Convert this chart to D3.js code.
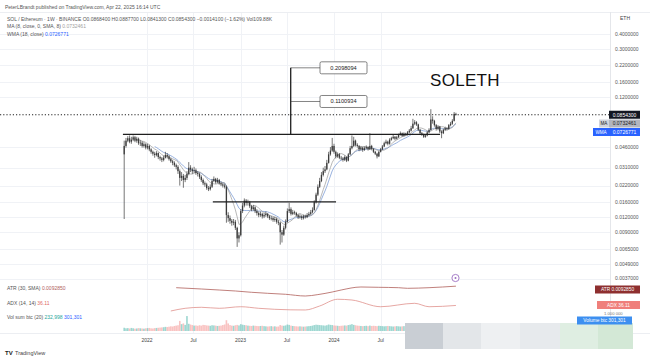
<!DOCTYPE html>
<html>
<head>
<meta charset="utf-8">
<script src="https://cdn.jsdelivr.net/npm/d3@7"></script>
<style>
  body { margin: 0; background: #fff; }
  svg { display: block; font-family: "Liberation Sans", Arial, sans-serif; }
</style>
</head>
<body>
<div id="chart"></div>
<script>

/* SOLETH WEEKLY DATA */

var firstWeek = "2021-10-04";
var firstOpen = 0.0400;

var closes = [
  0.0470,0.0520,0.0545,0.0510,0.0530,0.0555,0.0520,0.0540,0.0495,0.0500,
  0.0470,0.0485,0.0455,0.0470,0.0440,0.0420,0.0405,0.0395,0.0410,0.0380,
  0.0370,0.0360,0.0375,0.0395,0.0385,0.0365,0.0350,0.0340,0.0325,0.0315,
  0.0290,0.0255,0.0265,0.0245,0.0255,0.0275,0.0310,0.0300,0.0290,0.0295,
  0.0280,0.0275,0.0260,0.0245,0.0230,0.0225,0.0210,0.0205,0.0215,0.0240,
  0.0250,0.0235,0.0245,0.0230,0.0225,0.0220,0.0215,0.0125,0.0118,0.0112,
  0.0108,0.0110,0.0098,0.0080,0.0085,0.0135,0.0150,0.0165,0.0158,0.0160,
  0.0148,0.0140,0.0145,0.0135,0.0130,0.0125,0.0128,0.0122,0.0125,0.0128,
  0.0122,0.0118,0.0118,0.0114,0.0116,0.0110,0.0108,0.0090,0.0086,0.0098,
  0.0110,0.0135,0.0140,0.0128,0.0132,0.0130,0.0125,0.0120,0.0122,0.0118,
  0.0122,0.0120,0.0125,0.0128,0.0132,0.0138,0.0160,0.0185,0.0215,0.0240,
  0.0270,0.0290,0.0300,0.0340,0.0400,0.0430,0.0470,0.0420,0.0385,0.0400,
  0.0375,0.0370,0.0360,0.0380,0.0355,0.0400,0.0450,0.0470,0.0520,0.0480,
  0.0470,0.0440,0.0455,0.0435,0.0450,0.0460,0.0440,0.0470,0.0445,0.0420,
  0.0405,0.0385,0.0420,0.0440,0.0465,0.0495,0.0510,0.0490,0.0530,0.0545,
  0.0560,0.0540,0.0555,0.0580,0.0600,0.0570,0.0595,0.0580,0.0610,0.0630,
  0.0660,0.0720,0.0740,0.0710,0.0640,0.0600,0.0585,0.0560,0.0575,0.0610,
  0.0640,0.0780,0.0760,0.0700,0.0650,0.0680,0.0620,0.0600,0.0640,0.0660,
  0.0650,0.0700,0.0720,0.0760,0.08684,0.08543
];

var highs = [
  0.0520,0.0548,0.0567,0.0575,0.0560,0.0575,0.0570,0.0560,0.0552,0.0525,
  0.0515,0.0505,0.0495,0.0490,0.0480,0.0450,0.0430,0.0420,0.0425,0.0415,
  0.0390,0.0380,0.0390,0.0420,0.0410,0.0395,0.0375,0.0360,0.0350,0.0335,
  0.0325,0.0300,0.0285,0.0275,0.0270,0.0290,0.0345,0.0325,0.0310,0.0315,
  0.0305,0.0290,0.0282,0.0268,0.0252,0.0238,0.0232,0.0218,0.0225,0.0250,
  0.0262,0.0255,0.0255,0.0250,0.0238,0.0232,0.0228,0.0220,0.0132,0.0124,
  0.0116,0.0116,0.0114,0.0100,0.0090,0.0140,0.0158,0.0172,0.0170,0.0168,
  0.0164,0.0152,0.0152,0.0148,0.0140,0.0134,0.0134,0.0131,0.0130,0.0134,
  0.0130,0.0125,0.0123,0.0121,0.0121,0.0119,0.0114,0.0110,0.0094,0.0102,
  0.0115,0.0142,0.0158,0.0145,0.0138,0.0136,0.0133,0.0128,0.0127,0.0125,
  0.0126,0.0126,0.0130,0.0133,0.0138,0.0145,0.0166,0.0192,0.0225,0.0255,
  0.0285,0.0310,0.0320,0.0360,0.0420,0.0460,0.0548,0.0490,0.0430,0.0415,
  0.0410,0.0388,0.0380,0.0392,0.0385,0.0410,0.0470,0.0575,0.0560,0.0530,
  0.0495,0.0478,0.0470,0.0462,0.0465,0.0475,0.0468,0.0600,0.0480,0.0450,
  0.0428,0.0412,0.0428,0.0452,0.0478,0.0510,0.0530,0.0520,0.0545,0.0560,
  0.0580,0.0568,0.0570,0.0595,0.0620,0.0608,0.0610,0.0605,0.0625,0.0650,
  0.0690,0.0790,0.0770,0.0755,0.0720,0.0650,0.0615,0.0595,0.0590,0.0625,
  0.0660,0.0950,0.0830,0.0775,0.0715,0.0700,0.0690,0.0635,0.0655,0.0680,
  0.0675,0.0715,0.0745,0.0785,0.0900,0.08877
];

var lows = [
  0.0116,0.0455,0.0505,0.0495,0.0490,0.0515,0.0505,0.0500,0.0480,0.0470,
  0.0455,0.0455,0.0440,0.0440,0.0425,0.0405,0.0390,0.0375,0.0385,0.0365,
  0.0355,0.0345,0.0350,0.0370,0.0370,0.0355,0.0340,0.0325,0.0315,0.0300,
  0.0275,0.0220,0.0240,0.0211,0.0235,0.0245,0.0268,0.0285,0.0275,0.0280,
  0.0270,0.0262,0.0250,0.0236,0.0222,0.0215,0.0203,0.0198,0.0200,0.0210,
  0.0235,0.0228,0.0230,0.0224,0.0218,0.0212,0.0208,0.0108,0.0110,0.0106,
  0.0102,0.0103,0.0094,0.0068,0.0074,0.0083,0.0130,0.0145,0.0150,0.0150,
  0.0143,0.0135,0.0136,0.0130,0.0124,0.0120,0.0121,0.0117,0.0118,0.0121,
  0.0118,0.0114,0.0113,0.0110,0.0110,0.0106,0.0103,0.0071,0.0074,0.0084,
  0.0095,0.0108,0.0130,0.0124,0.0125,0.0126,0.0121,0.0116,0.0117,0.0114,
  0.0115,0.0117,0.0118,0.0122,0.0125,0.0129,0.0136,0.0156,0.0180,0.0210,
  0.0235,0.0262,0.0280,0.0295,0.0335,0.0390,0.0420,0.0405,0.0370,0.0375,
  0.0365,0.0358,0.0348,0.0352,0.0345,0.0350,0.0395,0.0440,0.0460,0.0465,
  0.0455,0.0425,0.0430,0.0420,0.0428,0.0440,0.0430,0.0435,0.0432,0.0410,
  0.0395,0.0370,0.0380,0.0415,0.0435,0.0460,0.0485,0.0475,0.0482,0.0520,
  0.0535,0.0525,0.0532,0.0548,0.0572,0.0560,0.0562,0.0570,0.0575,0.0600,
  0.0620,0.0650,0.0700,0.0690,0.0625,0.0585,0.0570,0.0548,0.0550,0.0565,
  0.0600,0.0630,0.0720,0.0680,0.0630,0.0635,0.0600,0.0545,0.0590,0.0625,
  0.0630,0.0640,0.0685,0.0705,0.0750,0.08413
];

var volumes = [
  180000,150000,160000,140000,170000,150000,130000,140000,160000,150000,
  140000,130000,150000,160000,170000,150000,140000,160000,170000,180000,
  190000,200000,210000,230000,220000,240000,260000,250000,280000,300000,
  320000,560000,380000,420000,340000,830000,400000,360000,330000,300000,
  310000,290000,320000,300000,340000,330000,310000,300000,290000,320000,
  310000,300000,280000,290000,300000,330000,360000,600000,420000,330000,
  300000,290000,320000,340000,310000,380000,350000,330000,320000,300000,
  290000,280000,300000,290000,280000,270000,280000,290000,270000,260000,
  250000,260000,270000,250000,260000,240000,250000,330000,300000,290000,
  310000,360000,340000,300000,280000,270000,260000,250000,260000,250000,
  240000,250000,260000,270000,280000,300000,330000,350000,340000,330000,
  320000,310000,300000,320000,360000,340000,330000,310000,300000,290000,
  280000,290000,300000,310000,300000,330000,350000,380000,340000,320000,
  300000,290000,280000,270000,280000,290000,270000,300000,280000,290000,
  280000,270000,290000,280000,270000,260000,270000,280000,270000,260000,
  250000,260000,270000,260000,250000,260000,270000,280000,290000,300000,
  320000,350000,330000,310000,290000,280000,270000,260000,270000,280000,
  300000,380000,340000,300000,290000,280000,270000,260000,280000,290000,
  280000,270000,290000,300000,310000,301301
];

/* indicator panes, read at a few weeks each */
var atrWeeks  = [29, 43, 53, 62, 71, 80, 90, 101, 108, 116, 121, 132, 142, 153, 158, 170, 185];
var atrValues = [0.00834,0.00754,0.00692,0.00631,0.00551,0.00489,0.00428,0.00323,0.00409,
                 0.00569,0.00692,0.00877,0.00858,0.00834,0.00797,0.00834,0.009285];
var adxWeeks  = [26, 34, 43, 53, 65, 75, 84, 101, 109, 119, 127, 143, 162, 170, 185];
var adxValues = [24.6,30.2,32.3,30.2,33.5,30.2,28.1,26.7,35.0,49.0,47.5,33.5,40.6,33.5,36.11];

var priceTicks = [0.4, 0.3, 0.22, 0.16, 0.12, 0.046, 0.031, 0.022, 0.016, 0.012, 0.009, 0.0065, 0.0049, 0.0037];
var timeTicks  = ["2022-01-01","2022-07-01","2023-01-01","2023-07-01","2024-01-01","2024-07-01"];
var timeLabels = ["2022","Jul","2023","Jul","2024","Jul"];

/* drawings on the chart */
var necklinePrice = 0.0586;
var necklineFrom = "2021-09-29", necklineTo = "2025-02-18";
var basePrice = 0.01612;
var baseFrom = "2022-09-15", baseTo = "2024-01-09";
var targetDate = "2023-07-16";
var targets = [0.2098094, 0.1100934];

var lastPrice = 0.0854300, maValue = 0.0732461, wmaValue = 0.0726771;

function drawChart(){

  var w = 650;
  var h = 363;
  var axisX = 610;

  var svg = d3.select("#chart").append("svg")
              .attr("width", w)
              .attr("height", h);

  var parse = d3.utcParse("%Y-%m-%d");
  var week0 = parse(firstWeek);

  var data = closes.map(function(c, i){
    return {
      date: d3.utcDay.offset(week0, i * 7),
      open: i === 0 ? firstOpen : closes[i - 1],
      high: highs[i],
      low: lows[i],
      close: c,
      volume: volumes[i]
    };
  });
  data[data.length - 1].open = 0.0868400;

  var x = d3.scaleUtc()
            .domain([parse("2022-01-01"), parse("2024-01-01")])
            .range([147, 334]);

  var y = d3.scaleLog()
            .domain([0.12, 0.0049])
            .range([97, 264]);

  /* grid */
  var grid = svg.append("g").attr("stroke", "#f0f2f6").attr("stroke-width", 1);
  timeTicks.forEach(function(t){
    var gx = Math.round(x(parse(t))) + 0.5;
    grid.append("line").attr("x1", gx).attr("x2", gx).attr("y1", 12).attr("y2", 333);
  });
  priceTicks.forEach(function(p){
    var gy = Math.round(y(p)) + 0.5;
    grid.append("line").attr("x1", 0).attr("x2", axisX).attr("y1", gy).attr("y2", gy);
  });

  /* frame */
  svg.append("line").attr("x1", 0).attr("x2", w).attr("y1", 12.5).attr("y2", 12.5)
     .attr("stroke", "#eceef2");
  svg.append("line").attr("x1", axisX + 0.5).attr("x2", axisX + 0.5).attr("y1", 12).attr("y2", 333)
     .attr("stroke", "#e4e6ea");
  svg.append("line").attr("x1", 0).attr("x2", w).attr("y1", 333.5).attr("y2", 333.5)
     .attr("stroke", "#eceef2");

  /* moving averages */
  var sma8 = data.map(function(d, i){
    if (i < 7) return null;
    return d3.mean(data.slice(i - 7, i + 1), function(e){ return e.close; });
  });
  var wma18 = data.map(function(d, i){
    if (i < 17) return null;
    var num = 0, den = 0;
    for (var k = 0; k < 18; k++) { num += data[i - k].close * (18 - k); den += 18 - k; }
    return num / den;
  });

  var maLine = d3.line()
                 .defined(function(v){ return v !== null; })
                 .x(function(v, i){ return x(data[i].date); })
                 .y(function(v){ return y(v); });

  svg.append("path").attr("d", maLine(wma18))
     .attr("fill", "none").attr("stroke", "#7f9ed6").attr("stroke-width", 0.8);
  svg.append("path").attr("d", maLine(sma8))
     .attr("fill", "none").attr("stroke", "#9a9a9a").attr("stroke-width", 0.7);

  /* candles */
  var candles = svg.append("g").selectAll("g")
                   .data(data)
                   .enter().append("g");

  candles.append("line")
         .attr("x1", function(d){ return x(d.date); })
         .attr("x2", function(d){ return x(d.date); })
         .attr("y1", function(d){ return y(d.high); })
         .attr("y2", function(d){ return y(d.low); })
         .attr("stroke", "#3b3b3b")
         .attr("stroke-width", 0.7);

  candles.append("rect")
         .attr("x", function(d){ return x(d.date) - 0.65; })
         .attr("width", 1.3)
         .attr("y", function(d){ return y(Math.max(d.open, d.close)); })
         .attr("height", function(d){ return Math.max(0.6, Math.abs(y(d.open) - y(d.close))); })
         .attr("fill", "#3b3b3b");

  /* neckline and base line */
  svg.append("line")
     .attr("x1", x(parse(necklineFrom))).attr("x2", x(parse(necklineTo)))
     .attr("y1", y(necklinePrice)).attr("y2", y(necklinePrice))
     .attr("stroke", "#1e1e1e").attr("stroke-width", 1.3);
  svg.append("line")
     .attr("x1", x(parse(baseFrom))).attr("x2", x(parse(baseTo)))
     .attr("y1", y(basePrice)).attr("y2", y(basePrice))
     .attr("stroke", "#1e1e1e").attr("stroke-width", 1.3);

  /* measured move */
  var tx = x(parse(targetDate));
  svg.append("line")
     .attr("x1", tx).attr("x2", tx)
     .attr("y1", y(targets[0])).attr("y2", y(necklinePrice))
     .attr("stroke", "#1e1e1e").attr("stroke-width", 1.3);

  targets.forEach(function(t){
    var ty = y(t);
    svg.append("line").attr("x1", tx).attr("x2", 320).attr("y1", ty).attr("y2", ty)
       .attr("stroke", "#333").attr("stroke-width", 0.6);
    svg.append("rect").attr("x", 320).attr("y", ty - 6).attr("width", 47).attr("height", 12)
       .attr("rx", 1.5).attr("fill", "#fff").attr("stroke", "#333").attr("stroke-width", 0.6);
    svg.append("text").attr("x", 343.5).attr("y", ty + 2)
       .attr("text-anchor", "middle").attr("font-size", 5.6).attr("fill", "#222")
       .text(t.toFixed(7));
  });

  /* last price dotted line */
  svg.append("line")
     .attr("x1", 0).attr("x2", axisX)
     .attr("y1", y(lastPrice)).attr("y2", y(lastPrice))
     .attr("stroke", "#222").attr("stroke-width", 1.1)
     .attr("stroke-dasharray", "1.2,2");

  /* title */
  svg.append("text").attr("x", 430).attr("y", 86)
     .attr("font-size", 17).attr("fill", "#111").attr("letter-spacing", 0.3)
     .text("SOLETH");

  /* price axis */
  svg.append("text").attr("x", 620).attr("y", 20).attr("font-size", 5).attr("fill", "#444").text("ETH");
  svg.append("g").selectAll("text")
     .data(priceTicks).enter().append("text")
     .attr("x", 615).attr("y", function(p){ return y(p) + 1.8; })
     .attr("font-size", 5).attr("fill", "#555")
     .text(function(p){ return p.toFixed(7); });

  function axisLabel(yy, tag, tagW, value, bg, tagBg, fg){
    if (tag) {
      svg.append("rect").attr("x", 609 - tagW).attr("y", yy - 4).attr("width", tagW).attr("height", 8).attr("fill", tagBg);
      svg.append("text").attr("x", 609 - tagW / 2).attr("y", yy + 1.8).attr("text-anchor", "middle")
         .attr("font-size", 4.6).attr("fill", fg).text(tag);
    }
    svg.append("rect").attr("x", 609).attr("y", yy - 4).attr("width", 31).attr("height", 8).attr("fill", bg);
    svg.append("text").attr("x", 624.5).attr("y", yy + 1.8).attr("text-anchor", "middle")
       .attr("font-size", 5).attr("fill", fg).text(value);
  }
  axisLabel(y(lastPrice), null, 0, lastPrice.toFixed(7), "#131722", null, "#fff");
  axisLabel(123.5, "MA", 10, maValue.toFixed(7), "#b2b5be", "#d1d4dc", "#222");
  axisLabel(132, "WMA", 16, wmaValue.toFixed(7), "#2962ff", "#2962ff", "#fff");

  /* time axis */
  svg.append("g").selectAll("text")
     .data(timeTicks).enter().append("text")
     .attr("x", function(t){ return x(parse(t)); })
     .attr("y", 342)
     .attr("text-anchor", "middle").attr("font-size", 5).attr("fill", "#444")
     .text(function(t, i){ return timeLabels[i]; });

  /* ATR pane */
  var yAtr = d3.scaleLinear().domain([0.002, 0.010]).range([298, 285]);
  svg.append("path")
     .attr("d", d3.line().curve(d3.curveMonotoneX)
                 .x(function(v, i){ return x(data[atrWeeks[i]].date); })
                 .y(function(v){ return yAtr(v); })(atrValues))
     .attr("fill", "none").attr("stroke", "#b0605a").attr("stroke-width", 0.8);

  /* ADX pane */
  var yAdx = d3.scaleLinear().domain([10, 60]).range([318, 294]);
  svg.append("path")
     .attr("d", d3.line().curve(d3.curveMonotoneX)
                 .x(function(v, i){ return x(data[adxWeeks[i]].date); })
                 .y(function(v){ return yAdx(v); })(adxValues))
     .attr("fill", "none").attr("stroke", "#e0908c").attr("stroke-width", 0.8);

  /* volume pane */
  var yVol = d3.scaleLinear().domain([0, 1000000]).range([331, 313]);
  svg.append("g").selectAll("rect")
     .data(data).enter().append("rect")
     .attr("x", function(d){ return x(d.date) - 0.8; })
     .attr("width", 1.6)
     .attr("y", function(d){ return yVol(d.volume); })
     .attr("height", function(d){ return yVol(0) - yVol(d.volume); })
     .attr("fill", function(d){ return d.close >= d.open ? "rgba(38,166,154,0.45)" : "rgba(239,83,80,0.35)"; });

  /* grey overlay blocks at bottom right */
  var blocks = [[405, "#c9ced4"], [443, "#e3e6e9"], [481, "#eef0f2"], [520, "#e7eaed"], [560, "#dfeee2"], [598, "#d3e8d6"]];
  blocks.forEach(function(b, i){
    var x2 = i < blocks.length - 1 ? blocks[i + 1][0] : 633;
    svg.append("rect").attr("x", b[0]).attr("y", 323).attr("width", x2 - b[0]).attr("height", 26).attr("fill", b[1]);
  });

  /* indicator labels */
  var legend = [
    {y: 290, parts: [["ATR (30, SMA) ", "#555"], ["0.0092850", "#b0605a"]]},
    {y: 305, parts: [["ADX (14, 14) ", "#555"], ["36.11", "#e06a66"]]},
    {y: 319, parts: [["Vol sum btc (20) ", "#555"], ["232,998", "#26a69a"], ["  301,301", "#2962ff"]]}
  ];
  legend.forEach(function(l){
    var t = svg.append("text").attr("x", 7).attr("y", l.y).attr("font-size", 5);
    l.parts.forEach(function(p){ t.append("tspan").attr("fill", p[1]).text(p[0]); });
  });

  svg.append("rect").attr("x", 595).attr("y", 285.5).attr("width", 45).attr("height", 8).attr("fill", "#8e2f2f");
  svg.append("text").attr("x", 617.5).attr("y", 291.3).attr("text-anchor", "middle").attr("font-size", 4.8).attr("fill", "#fff").text("ATR  0.0092850");
  svg.append("rect").attr("x", 597).attr("y", 301).attr("width", 43).attr("height", 8).attr("fill", "#ef7f7b");
  svg.append("text").attr("x", 618.5).attr("y", 306.8).attr("text-anchor", "middle").attr("font-size", 4.8).attr("fill", "#fff").text("ADX  36.11");
  svg.append("text").attr("x", 604).attr("y", 315).attr("font-size", 4.2).attr("fill", "#777").text("1.000 000");
  svg.append("rect").attr("x", 577).attr("y", 316.5).attr("width", 55).attr("height", 8).attr("fill", "#3d8ff0");
  svg.append("text").attr("x", 604.5).attr("y", 322.3).attr("text-anchor", "middle").attr("font-size", 4.8).attr("fill", "#fff").text("Volume btc   301,301");

  /* alert marker */
  svg.append("circle").attr("cx", 455.5).attr("cy", 278).attr("r", 3.6)
     .attr("fill", "#fff").attr("stroke", "#9c6fc2").attr("stroke-width", 0.9);
  svg.append("circle").attr("cx", 455.5).attr("cy", 278).attr("r", 1).attr("fill", "#9c6fc2");

  /* header */
  var head = svg.append("g").attr("font-size", 5).attr("fill", "#555");
  head.append("text").attr("x", 5).attr("y", 8.5)
      .text("PeterLBrandt published on TradingView.com, Apr 22, 2025 16:14 UTC");
  head.append("text").attr("x", 7).attr("y", 20.5)
      .text("SOL / Ethereum · 1W · BINANCE   O0.0868400  H0.0887700  L0.0841300  C0.0854300  −0.0014100 (−1.62%)  Vol109.88K");
  var l3 = head.append("text").attr("x", 7).attr("y", 28);
  l3.append("tspan").text("MA (8, close, 0, SMA, 8) ");
  l3.append("tspan").attr("fill", "#a0a0a0").text("0.0732461");
  var l4 = head.append("text").attr("x", 7).attr("y", 35.5);
  l4.append("tspan").text("WMA (18, close) ");
  l4.append("tspan").attr("fill", "#2962ff").text("0.0726771");

  /* footer logo */
  svg.append("text").attr("x", 5).attr("y", 355).attr("font-size", 6).attr("font-weight", "bold").attr("fill", "#222").text("TV");
  svg.append("text").attr("x", 15).attr("y", 355).attr("font-size", 5.5).attr("fill", "#444").text("TradingView");

};

drawChart();
</script>
</body>
</html>
